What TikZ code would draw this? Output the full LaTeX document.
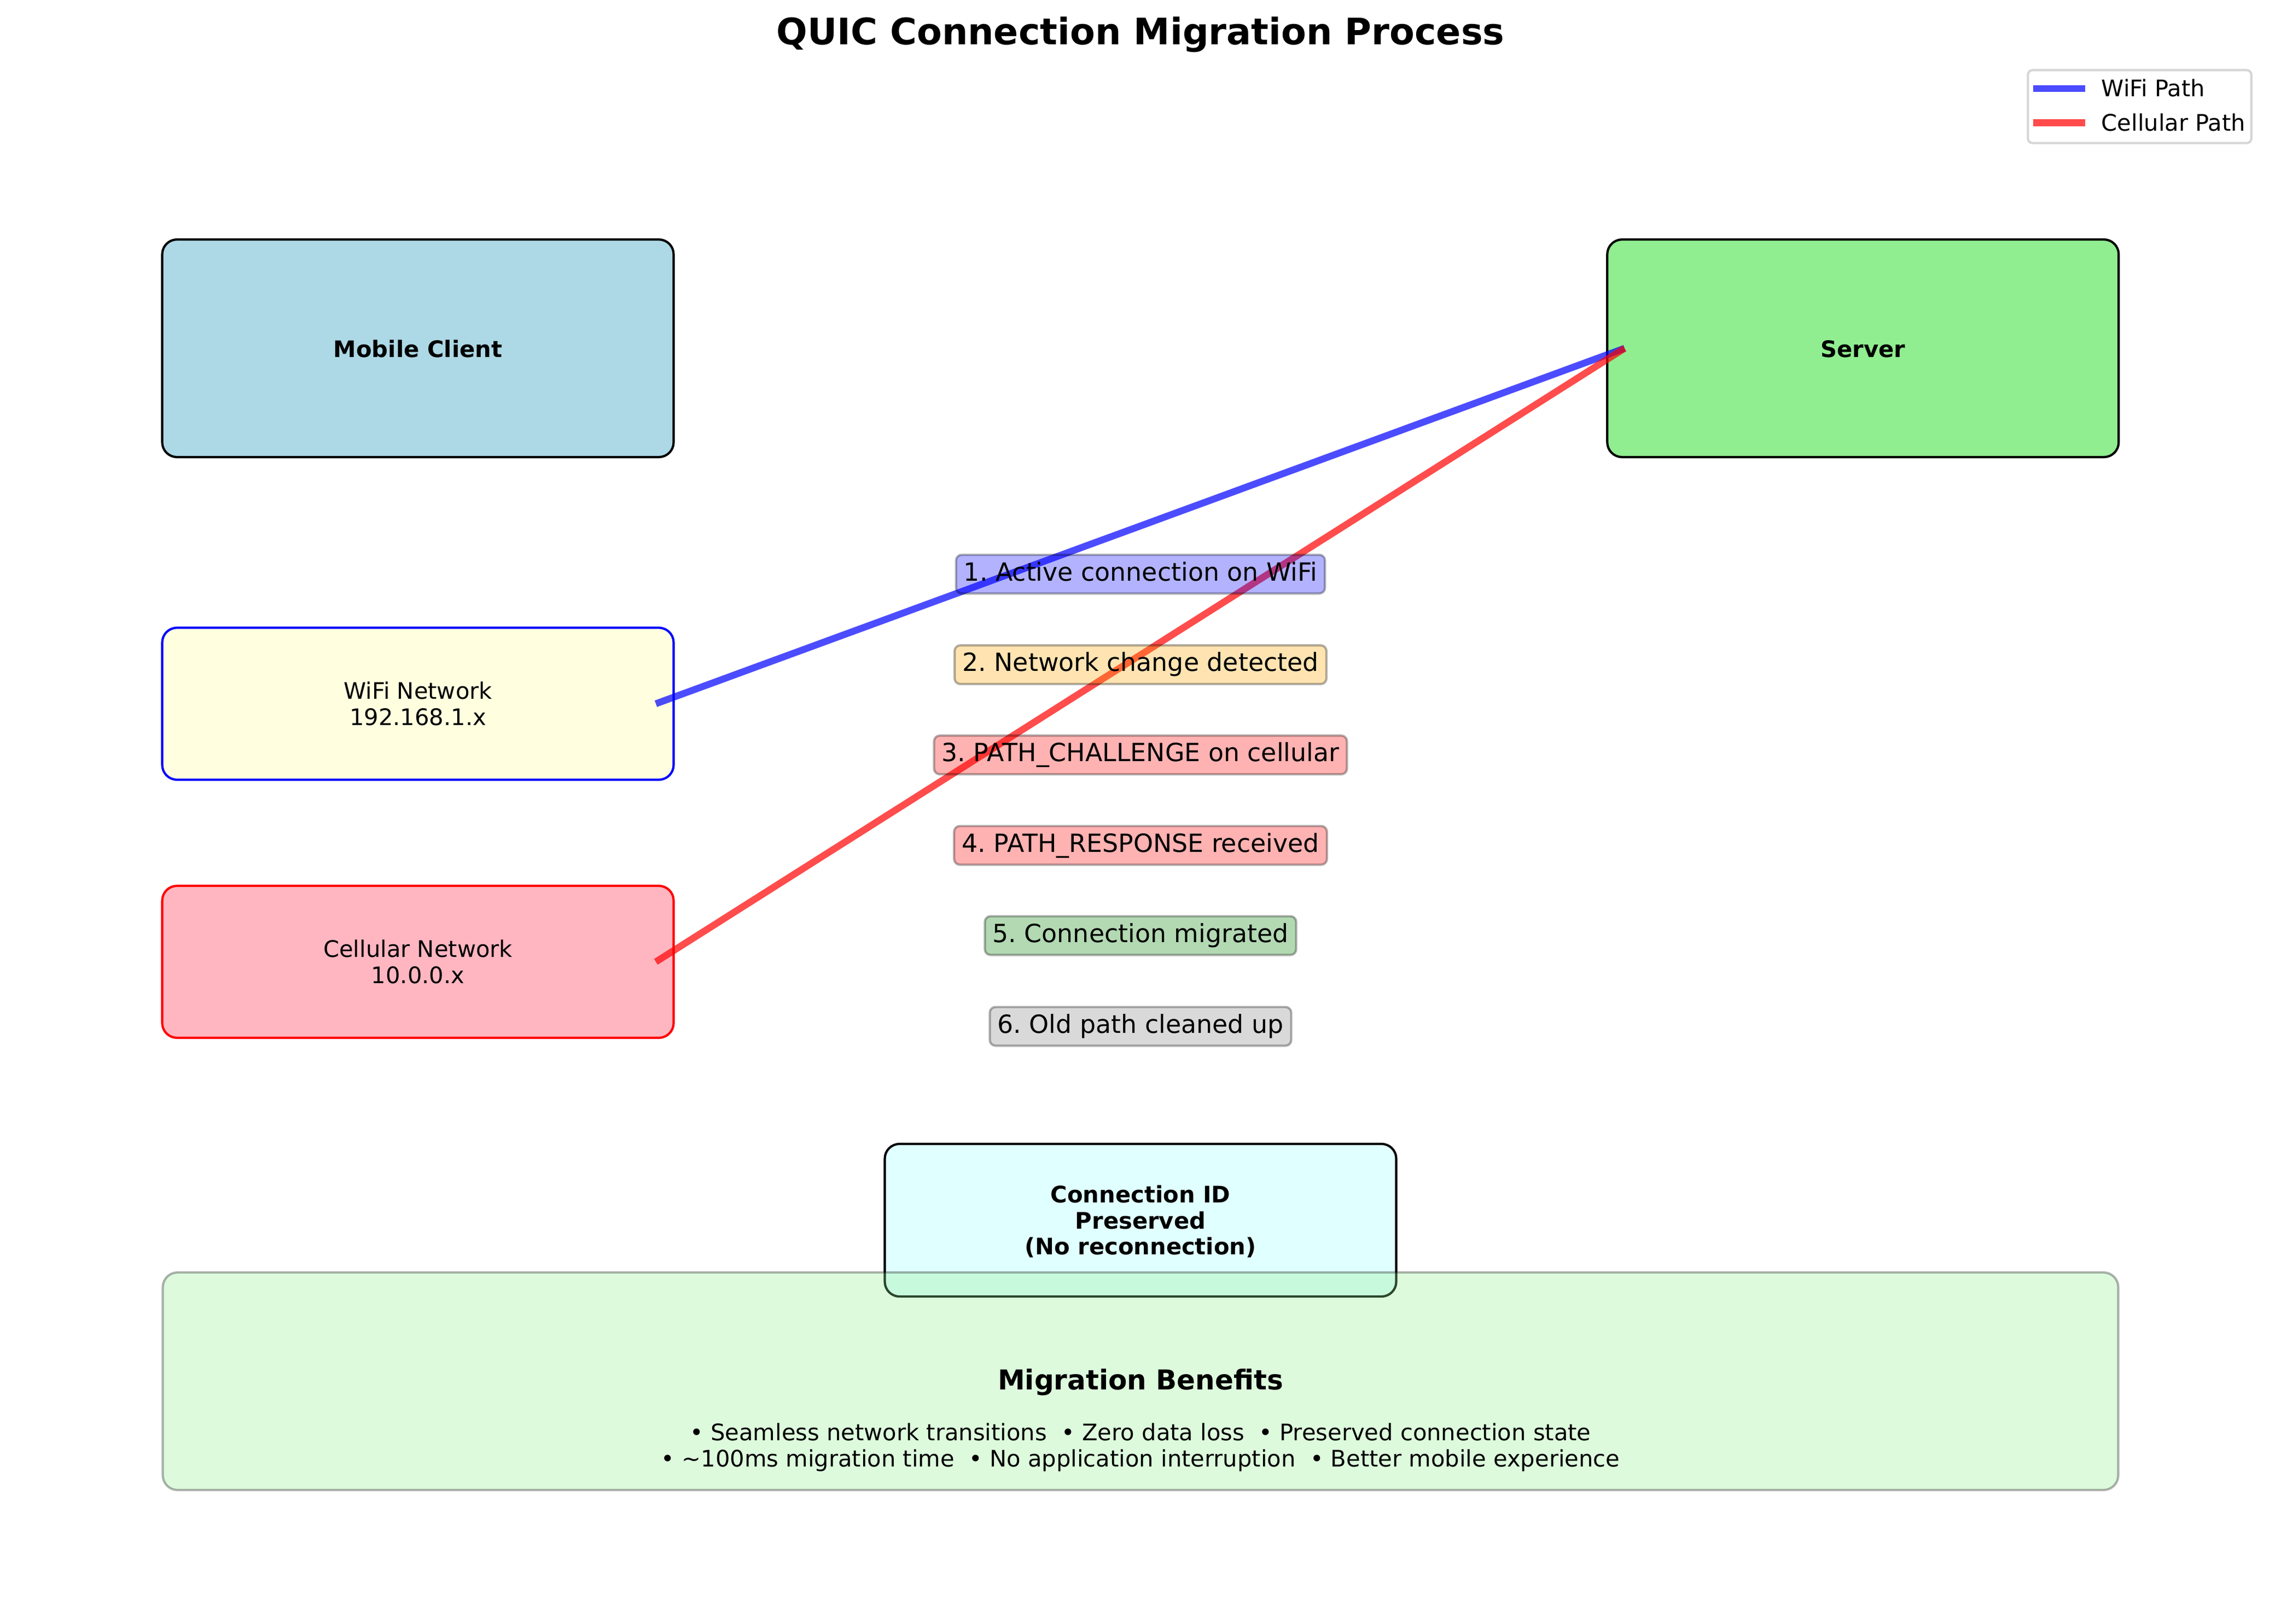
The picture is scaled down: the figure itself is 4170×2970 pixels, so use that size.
\documentclass[tikz,border=0pt]{standalone}
\usepackage{fontspec}
\setmainfont{DejaVu Sans}
\frenchspacing
\definecolor{lightblueC}{HTML}{ADD8E6}
\definecolor{lightgreenC}{HTML}{90EE90}
\definecolor{lightyellowC}{HTML}{FFFFE0}
\definecolor{lightpinkC}{HTML}{FFB6C1}
\definecolor{lightcyanC}{HTML}{E0FFFF}
\definecolor{orangeC}{HTML}{FFA500}
\definecolor{greenC}{HTML}{008000}
\definecolor{grayC}{HTML}{808080}
\definecolor{legendedge}{HTML}{D6D6D6}
\begin{document}
\begin{tikzpicture}[x=0.24pt,y=-0.24pt,
  bigbox/.style={draw, line width=1pt, rounded corners=6.5pt, inner sep=0pt, minimum width=224.4pt},
  topbox/.style={bigbox, minimum height=95.5pt},
  netbox/.style={bigbox, minimum height=66.7pt},
  boxtext/.style={font=\fontsize{10}{11.4}\selectfont, align=center, inner sep=0pt},
  boldtext/.style={font=\fontsize{10}{11.4}\selectfont\bfseries, align=center, inner sep=0pt},
  steplabel/.style={draw=black, draw opacity=0.3, fill opacity=0.3, text opacity=1, line width=1pt,
    rounded corners=2.5pt, inner xsep=3.4pt, inner ysep=0pt, minimum height=17pt,
    text height=8.3pt, text depth=2.4pt, font=\fontsize{11}{13}\selectfont},
  pathline/.style={line width=3pt, draw opacity=0.7},
  legtext/.style={font=\fontsize{10}{12}\selectfont, anchor=base west, inner sep=0pt}
]
\useasboundingbox (0,0) rectangle (4170,2970);

% main boxes
\node[topbox, fill=lightblueC] (client) at (764,637) {};
\node[topbox, fill=lightgreenC] (server) at (3405.75,637) {};
\node[netbox, fill=lightyellowC, draw=blue] (wifi) at (764,1287) {};
\node[netbox, fill=lightpinkC, draw=red] (cell) at (764,1759) {};
\node[bigbox, fill=lightcyanC, minimum height=67pt] (connid) at (2085,2231.5) {};
\node[draw=black, draw opacity=0.3, fill=lightgreenC, fill opacity=0.3, line width=1pt,
      rounded corners=6.5pt, minimum width=858pt, minimum height=95.5pt, inner sep=0pt] (benefits) at (2085,2526) {};

% paths
\draw[pathline, blue] ([xshift=-8.3pt]wifi.east) -- ([xshift=8.1pt]server.west);
\draw[pathline, red] ([xshift=-8.3pt]cell.east) -- ([xshift=8.1pt]server.west);

% box texts
\node[boldtext, anchor=base] (clientlbl) at (764,654) {Mobile Client};
\node[boldtext, anchor=base] (serverlbl) at (3405.75,654) {Server};
\node[boxtext] (wifilbl) at (764,1287) {WiFi Network\\192.168.1.x};
\node[boxtext] (celllbl) at (764,1759) {Cellular Network\\10.0.0.x};
\node[boldtext] (connidlbl) at (2085,2234) {Connection ID\\Preserved\\(No reconnection)};

% steps
\node[steplabel, fill=blue] (s1) at (2085,1050) {1. Active connection on WiFi};
\node[steplabel, fill=orangeC] (s2) at (2085,1215.6) {2. Network change detected};
\node[steplabel, fill=red] (s3) at (2085,1380.6) {3. PATH\_CHALLENGE on cellular};
\node[steplabel, fill=red] (s4) at (2085,1546) {4. PATH\_RESPONSE received};
\node[steplabel, fill=greenC] (s5) at (2085,1711) {5. Connection migrated};
\node[steplabel, fill=grayC] (s6) at (2085,1877) {6. Old path cleaned up};

% benefits text
\node[font=\fontsize{12}{14}\selectfont\bfseries, anchor=base, inner sep=0pt] (bentitle) at (2085,2541) {Migration Benefits};
\node[font=\fontsize{10}{12}\selectfont, anchor=base, inner sep=0pt] (ben1) at (2085,2634)
  {• Seamless network transitions~~• Zero data loss~~• Preserved connection state};
\node[font=\fontsize{10}{12}\selectfont, anchor=base, inner sep=0pt] (ben2) at (2085,2682)
  {• \textasciitilde{}100ms migration time~~• No application interruption~~• Better mobile experience};

% title
\node[font=\fontsize{16}{19}\selectfont\bfseries, anchor=base, inner sep=0pt] (title) at (2085,82) {QUIC Connection Migration Process};

% legend
\node[draw=legendedge, fill=white, fill opacity=0.8, line width=1pt, rounded corners=2pt,
      minimum width=98pt, minimum height=32pt, inner sep=0pt] (legend) at (3911.5,195) {};
\coordinate (lwa) at (3717,162);
\coordinate (lwb) at (3812,162);
\coordinate (lca) at (3717,224.5);
\coordinate (lcb) at (3812,224.5);
\draw[pathline, blue] (lwa) -- (lwb);
\draw[pathline, red] (lca) -- (lcb);
\node[legtext] (legwifi) at (3841,177) {WiFi Path};
\node[legtext] (legcell) at (3841,239.7) {Cellular Path};
\end{tikzpicture}
\end{document}
